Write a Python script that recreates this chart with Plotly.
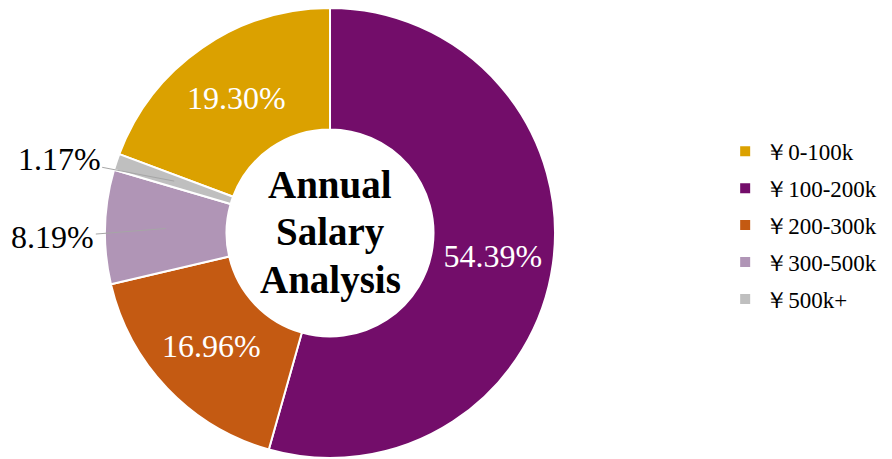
import math
import plotly.graph_objects as go

labels = ['￥0-100k', '￥100-200k', '￥200-300k', '￥300-500k', '￥500k+']
shares = [19.30, 54.39, 16.96, 8.19, 1.17]
colors = ['#DBA100', '#730D6A', '#C45A12', '#B095B6', '#BFBFBF']
# small slices get their label outside with a leader line
outside = [False, False, False, True, True]
label_offset = {3: (-113, 9), 4: (-115, -22)}  # px from slice mid-ring to label

W, H = 892, 459
M_B = 9
HOLE = 0.46
CX, CY = 0.361, 0.5  # pie centre, paper coords

# first slice (0-100k) ends at 12 o'clock, the 100-200k slice starts there
total = sum(shares)
start = -360 * shares[0] / total

fig = go.Figure(go.Pie(
    labels=labels,
    values=shares,
    sort=False,
    direction='clockwise',
    rotation=start,
    hole=HOLE,
    automargin=False,
    showlegend=False,
    marker=dict(colors=colors, line=dict(color='white', width=2)),
    texttemplate=['%{value:.2f}%' if not o else '' for o in outside],
    textposition=['inside' if not o else 'none' for o in outside],
    insidetextorientation='horizontal',
    textfont=dict(color='white', size=32, family='Liberation Serif'),
    domain=dict(x=[0, 2 * CX], y=[0, 1]),
))

# outside labels with leader lines into the middle of the ring
plot_h = H - M_B
radius = min(2 * CX * W, plot_h) / 2
acc = start
for i, v in enumerate(shares):
    mid = math.radians(acc + v * 360 / total / 2)
    acc += v * 360 / total
    if not outside[i]:
        continue
    r = radius * (1 + HOLE) / 2
    ax, ay = label_offset[i]
    fig.add_annotation(
        text=f'{v:.2f}%',
        x=CX + r * math.sin(mid) / W, y=CY + r * math.cos(mid) / plot_h,
        xref='paper', yref='paper', ax=ax, ay=ay,
        showarrow=True, arrowhead=0, arrowwidth=1, arrowcolor='#A6A6A6',
        font=dict(size=32, family='Liberation Serif', color='black'),
    )

# legend entries, one group each so the gap between them can be set
for lab, col in zip(labels, colors):
    fig.add_trace(go.Scatter(
        x=[None], y=[None], mode='markers', name=lab, legendgroup=lab,
        marker=dict(symbol='square', size=10, color=col),
    ))

# centre title, one line per annotation to keep the lines tight
for line, dy in zip(['Annual', 'Salary', 'Analysis'], [49, 1, -47]):
    fig.add_annotation(
        text='<b>' + line + '</b>',
        x=CX, y=CY, xref='paper', yref='paper', showarrow=False,
        yshift=dy, font=dict(size=39, family='Liberation Serif', color='black'),
    )

fig.update_layout(
    width=W, height=H,
    margin=dict(l=0, r=0, t=0, b=M_B),
    paper_bgcolor='white',
    plot_bgcolor='white',
    font=dict(family='Liberation Serif', size=23, color='black'),
    xaxis=dict(visible=False),
    yaxis=dict(visible=False),
    legend=dict(x=0.804, y=0.517, yanchor='middle', xanchor='left',
                font=dict(size=23), itemwidth=30, tracegroupgap=4),
)

fig.write_html('out.html')
